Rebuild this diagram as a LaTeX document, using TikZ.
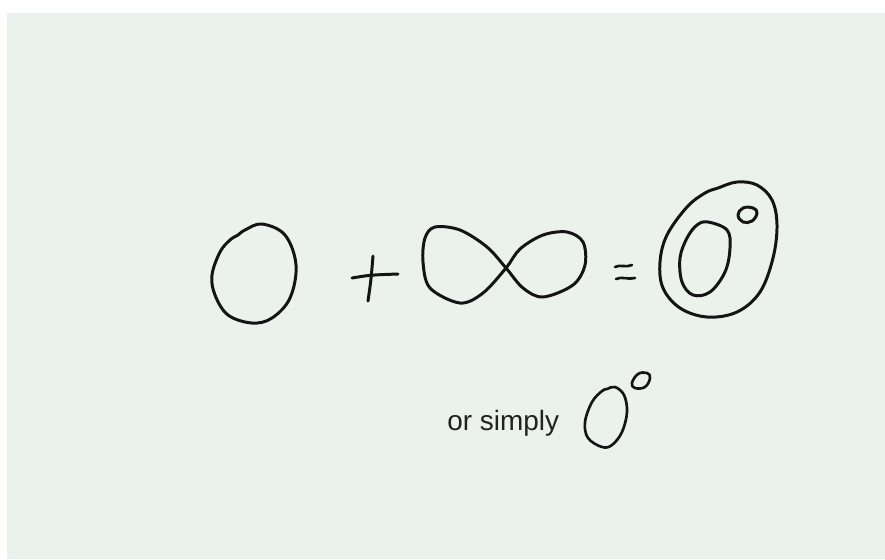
\documentclass[tikz,border=0pt]{standalone}
\usepackage{fontspec}
\setmainfont{Liberation Sans}
\usepackage{tikz}
\usepackage{xcolor}
\definecolor{PaperGreen}{HTML}{EAF2EB}
\definecolor{InkBlack}{HTML}{141414}
\definecolor{TextGray}{HTML}{222222}
\tikzset{
    % Stroke styles
    inkline/.style={
        draw=InkBlack,
        line width=1.7pt,
        line cap=round,
        line join=round
    },
    % Text styles
    notetext/.style={
        font=\fontsize{15.9}{19}\selectfont,
        text=TextGray,
        inner sep=0pt,
        anchor=base west
    }
}
\begin{document}
\begin{tikzpicture}[x=0.02cm, y=-0.02cm]
            % Paper
            \useasboundingbox (0,0) rectangle (885,559);
            \fill[PaperGreen] (7,13) rectangle (885,559);

            % Zero
            \draw[inkline] plot[smooth cycle, tension=0.6] coordinates {(262,224) (285,235) (296,265) (290,298) (272,318) (252,323) (228,315) (215,295) (212,275) (220,252) (230,240) (238,235) (245,230)};

            % Plus
            \draw[inkline] (352,278) .. controls (370,275) .. (398,274);
            \draw[inkline] (373,256) .. controls (371,280) .. (368,301);

            % Infinity
            \draw[inkline] plot[smooth cycle, tension=0.55] coordinates {(506,268) (520,249) (543,235) (567,232) (583,242) (585,265) (573,285) (543,297) (523,288) (506,268) (487,247) (460,230) (435,227) (425,238) (423,262) (430,288) (460,303) (483,293)};

            % Equals
            \draw[inkline, line width=1.5pt] (615,267) .. controls (620,264) and (626,268) .. (632,265);
            \draw[inkline, line width=1.5pt] (616,279) .. controls (622,276) and (628,280) .. (635,278);

            % Result: big zero with degree
            \draw[inkline] plot[smooth cycle, tension=0.6] coordinates {(718,188) (737,182) (757,185) (772,200) (777,225) (773,258) (760,292) (737,312) (707,317) (680,308) (663,288) (660,262) (667,235) (687,207) (705,193)};
            \draw[inkline] plot[smooth cycle, tension=0.6] coordinates {(708,222) (727,230) (730,248) (725,272) (710,292) (693,295) (682,282) (680,258) (687,238) (697,225)};
            \draw[inkline] plot[smooth cycle, tension=0.7] coordinates {(743,208) (753,208) (757,213) (752,221) (743,222) (738,215)};

            % Caption
            \node[notetext] (orsimply) at (447,430) {or simply};

            % Small zero with degree
            \draw[inkline, line width=1.5pt] plot[smooth cycle, tension=0.6] coordinates {(615,387) (624,395) (627,412) (622,432) (612,445) (602,447) (588,438) (585,422) (592,402) (602,391) (607,389)};
            \draw[inkline, line width=1.5pt] plot[smooth cycle, tension=0.7] coordinates {(638,374) (647,373) (650,378) (645,387) (635,388) (632,383)};
\end{tikzpicture}
\end{document}
